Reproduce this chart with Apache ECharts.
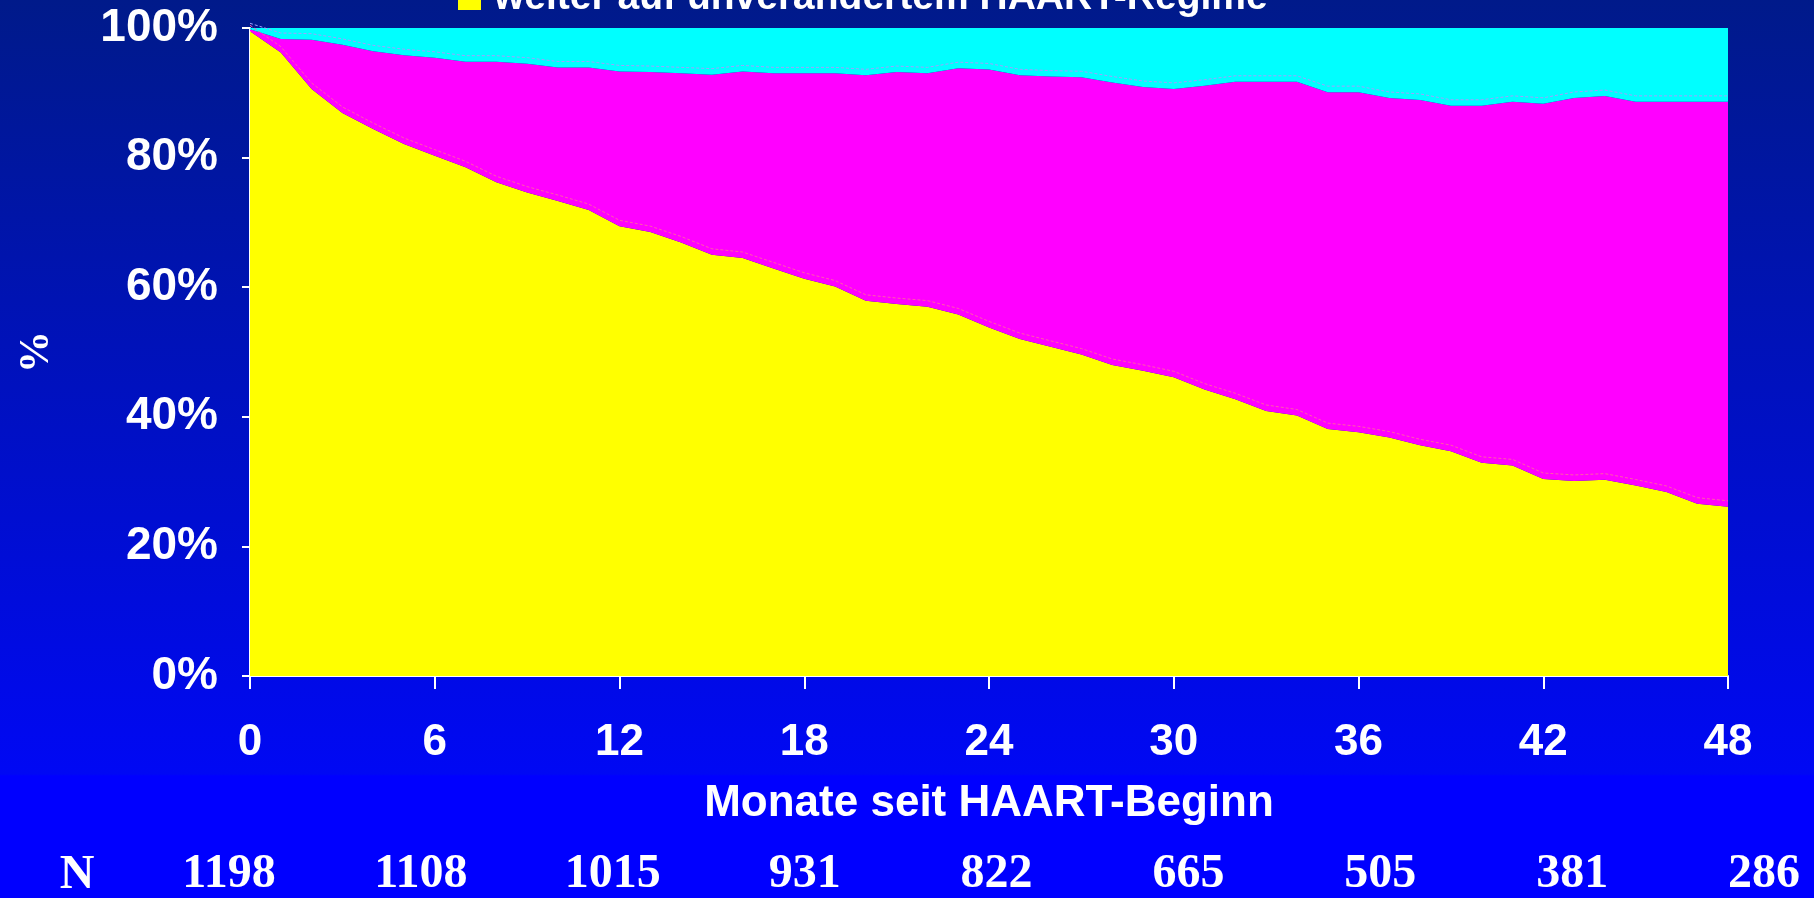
<!DOCTYPE html>
<html>
<head>
<meta charset="utf-8">
<script src="https://cdn.jsdelivr.net/npm/echarts@6/dist/echarts.min.js"></script>
<style>
  html, body { margin: 0; padding: 0; background: #0000ff; }
  #chart { width: 1814px; height: 898px; }
</style>
</head>
<body>
<div id="chart"></div>
<script>
// Months since HAART start (0 .. 48)
const months = [
  '0','1','2','3','4','5','6','7','8','9','10','11','12','13','14','15','16',
  '17','18','19','20','21','22','23','24','25','26','27','28','29','30','31','32',
  '33','34','35','36','37','38','39','40','41','42','43','44','45','46','47','48'
];

// Share of patients (%) per month
const unchanged = [
  99.5, 96.2, 90.6, 86.9, 84.4, 82.1, 80.3, 78.5, 76.2, 74.6, 73.3, 71.9, 69.4,
  68.5, 66.9, 65.0, 64.5, 62.9, 61.3, 60.1, 57.9, 57.4, 57.0, 55.8, 53.8, 52.0,
  50.8, 49.6, 48.0, 47.1, 46.1, 44.2, 42.7, 40.9, 40.2, 38.1, 37.6, 36.8, 35.6,
  34.7, 32.9, 32.5, 30.4, 30.1, 30.3, 29.4, 28.4, 26.6, 26.1
];
const switched = [
  0.3, 2.1, 7.6, 10.5, 12.0, 13.7, 15.1, 16.3, 18.6, 19.9, 20.6, 22.0, 23.9,
  24.7, 26.1, 27.8, 28.8, 30.1, 31.7, 32.9, 34.8, 35.8, 36.0, 38.0, 39.8, 40.7,
  41.7, 42.8, 43.6, 43.8, 44.5, 46.9, 49.0, 50.8, 51.5, 52.0, 52.5, 52.4, 53.3,
  53.3, 55.1, 56.1, 57.9, 59.1, 59.2, 59.2, 60.2, 62.0, 62.5
];
const stopped = [
  0.2, 1.7, 1.8, 2.6, 3.6, 4.2, 4.6, 5.2, 5.2, 5.5, 6.1, 6.1, 6.7,
  6.8, 7.0, 7.2, 6.7, 7.0, 7.0, 7.0, 7.3, 6.8, 7.0, 6.2, 6.4, 7.3,
  7.5, 7.6, 8.4, 9.1, 9.4, 8.9, 8.3, 8.3, 8.3, 9.9, 9.9, 10.8, 11.1,
  12.0, 12.0, 11.4, 11.7, 10.8, 10.5, 11.4, 11.4, 11.4, 11.4
];

// Patients under observation at each 6-month mark
const nAtRisk = ['1198', '1108', '1015', '931', '822', '665', '505', '381', '286'];

const nameUnchanged = 'weiter auf unverändertem HAART-Regime';
const nameSwitched = 'Regimewechsel';
const nameStopped = 'Therapieabbruch';

// Upper edges of the stacked bands, used for the thin relief lines
const edgeLow = unchanged.map((v) => v);
const edgeHigh = unchanged.map((v, i) => +(v + switched[i]).toFixed(1));

const SANS = '"Liberation Sans", Arial, sans-serif';
const SERIF = '"Liberation Serif", "Times New Roman", serif';

const chart = echarts.init(document.getElementById('chart'), null, { renderer: 'canvas' });

function band(name, data, color) {
  return {
    name: name,
    type: 'line',
    stack: 'total',
    xAxisIndex: 0,
    yAxisIndex: 0,
    data: data,
    symbol: 'none',
    lineStyle: { width: 0 },
    areaStyle: { color: color, opacity: 1 },
    itemStyle: { color: color },
    silent: true,
    z: 2
  };
}

function relief(data, color) {
  return {
    type: 'line',
    xAxisIndex: 2,
    yAxisIndex: 2,
    data: data,
    symbol: 'none',
    lineStyle: { width: 1, color: color, type: [3, 2] },
    silent: true,
    z: 3
  };
}

chart.setOption({
  animation: false,
  backgroundColor: {
    type: 'linear', x: 0, y: 0, x2: 0, y2: 1,
    colorStops: [
      { offset: 0, color: '#001a8a' },
      { offset: 0.862, color: '#0008f4' },
      { offset: 0.864, color: '#0000ff' },
      { offset: 1, color: '#0000ff' }
    ]
  },
  legend: {
    data: [nameUnchanged],
    left: 453,
    top: -26,
    icon: 'rect',
    itemWidth: 23,
    itemHeight: 23,
    selectedMode: false,
    textStyle: {
      color: '#ffffff',
      fontSize: 39,
      fontWeight: 'bold',
      fontFamily: SANS,
      padding: [0, 0, 0, 8]
    }
  },
  grid: [
    { left: 250, right: 86, top: 28, bottom: 222 },
    { left: 229, right: 50, top: 840, height: 10 },
    { left: 250, right: 86, top: 22, bottom: 228 }
  ],
  xAxis: [
    {
      gridIndex: 0,
      type: 'category',
      data: months,
      boundaryGap: false,
      axisLine: { show: true, lineStyle: { color: '#ffffff', width: 2 } },
      axisTick: { show: true, interval: 5, length: 13, lineStyle: { color: '#ffffff', width: 2 } },
      axisLabel: {
        interval: 5,
        color: '#ffffff',
        fontSize: 44,
        fontWeight: 'bold',
        fontFamily: SANS,
        margin: 45
      },
      splitLine: { show: false },
      name: 'Monate seit HAART-Beginn',
      nameLocation: 'middle',
      nameGap: 106,
      nameTextStyle: {
        color: '#ffffff',
        fontSize: 44,
        fontWeight: 'bold',
        fontFamily: SANS
      }
    },
    {
      gridIndex: 1,
      type: 'category',
      data: nAtRisk,
      boundaryGap: false,
      axisLine: { show: false },
      axisTick: { show: false },
      axisLabel: {
        interval: 0,
        color: '#ffffff',
        fontSize: 48,
        fontWeight: 'bold',
        fontFamily: SERIF,
        margin: 8
      },
      splitLine: { show: false }
    },
    {
      gridIndex: 2,
      type: 'category',
      data: months,
      boundaryGap: false,
      show: false
    }
  ],
  yAxis: [
    {
      gridIndex: 0,
      type: 'value',
      min: 0,
      max: 100,
      interval: 20,
      axisLine: { show: true, lineStyle: { color: '#ffffff', width: 2 } },
      axisTick: { show: true, length: 8, lineStyle: { color: '#ffffff', width: 2 } },
      axisLabel: {
        formatter: '{value}%',
        color: '#ffffff',
        fontSize: 46,
        fontWeight: 'bold',
        fontFamily: SANS,
        margin: 32
      },
      splitLine: { show: false },
      name: '%',
      nameLocation: 'middle',
      nameRotate: 90,
      nameGap: 192,
      nameTextStyle: {
        color: '#ffffff',
        fontSize: 42,
        fontWeight: 'bold',
        fontFamily: SERIF
      }
    },
    { gridIndex: 1, type: 'value', show: false },
    { gridIndex: 2, type: 'value', min: 0, max: 100, show: false }
  ],
  graphic: [
    {
      type: 'text',
      x: 77,
      y: 876,
      silent: true,
      style: {
        text: 'N',
        fill: '#ffffff',
        font: 'bold 48px ' + SERIF,
        align: 'center',
        verticalAlign: 'middle'
      }
    }
  ],
  series: [
    band(nameUnchanged, unchanged, '#ffff00'),
    band(nameSwitched, switched, '#ff00ff'),
    band(nameStopped, stopped, '#00ffff'),
    relief(edgeLow, '#ff5aa8'),
    relief(edgeHigh, '#a0a0ff')
  ]
});
</script>
</body>
</html>
